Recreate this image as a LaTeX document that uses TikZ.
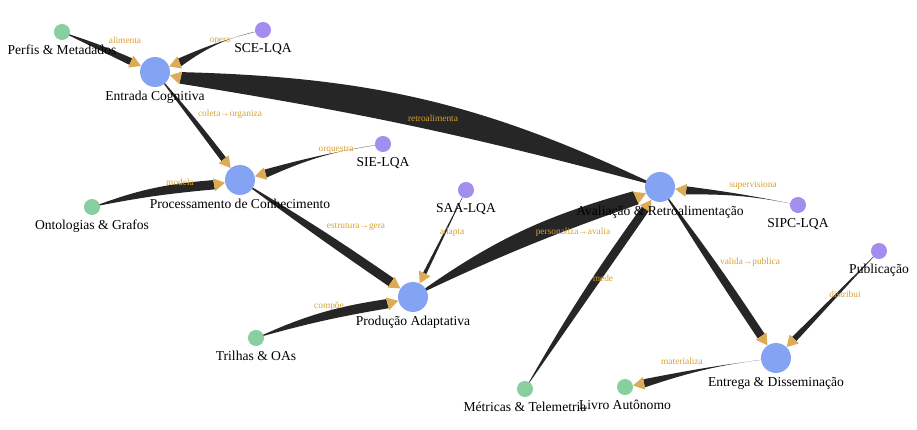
\documentclass[tikz,border=0pt]{standalone}
\usepackage{fontspec}
\setmainfont{Liberation Serif}
\usetikzlibrary{calc,backgrounds}
\definecolor{stageblue}{HTML}{84A3F2}
\definecolor{agentviolet}{HTML}{A38EF0}
\definecolor{sourcegreen}{HTML}{88CFA0}
\definecolor{flowdark}{HTML}{262626}
\definecolor{tiporange}{HTML}{DDAA55}
\definecolor{textorange}{HTML}{D9A030}
\tikzset{
  stage/.style={circle,fill=stageblue,inner sep=0pt,minimum size=25.6pt},
  agent/.style={circle,fill=agentviolet,inner sep=0pt,minimum size=13.7pt},
  source/.style={circle,fill=sourcegreen,inner sep=0pt,minimum size=13.7pt},
  lbl/.style={font=\fontsize{11.6}{13}\selectfont,inner sep=0pt},
  elbl/.style={font=\fontsize{8}{9}\selectfont,text=textorange,inner sep=0pt},
}
% tapered connector: source, target, half width, bend out, bend back
\newcommand\flow[5]{%
  \path (#2) -- (#1) coordinate[pos=0] (tip);
  \coordinate (base) at ($(tip)!9.5pt!(#1)$);
  \fill[flowdark] (#1.center) to[bend left=#4] ($(base)!#3!90:(tip)$)
    -- ($(base)!#3!-90:(tip)$) to[bend right=#5] (#1.center);
  \fill[tiporange] (tip) -- ($(base)!5.5pt!90:(tip)$)
    -- ($(base)!5.5pt!-90:(tip)$) -- cycle;
}
\begin{document}
\begin{tikzpicture}[x=0.03cm,y=-0.03cm]
\useasboundingbox (0,0) rectangle (917,430);
% stages
\node[stage,label={[lbl,label distance=3pt]below:Entrada Cognitiva}] (entrada) at (155,72) {};
\node[stage,label={[lbl,label distance=3pt]below:Processamento de Conhecimento}] (proc) at (240,180) {};
\node[stage,label={[lbl,label distance=3pt]below:Produção Adaptativa}] (prod) at (413,297) {};
\node[stage,label={[lbl,label distance=3pt]below:Avaliação \& Retroalimentação}] (aval) at (660,187) {};
\node[stage,label={[lbl,label distance=3pt]below:Entrega \& Disseminação}] (entrega) at (776,358) {};
% agents
\node[agent,label={[lbl,label distance=4pt]below:SCE-LQA}] (sce) at (263,30) {};
\node[agent,label={[lbl,label distance=4pt]below:SIE-LQA}] (sie) at (383,144) {};
\node[agent,label={[lbl,label distance=4pt]below:SAA-LQA}] (saa) at (466,190) {};
\node[agent,label={[lbl,label distance=4pt]below:SIPC-LQA}] (sipc) at (798,205) {};
\node[agent,label={[lbl,label distance=4pt]below:Publicação}] (pub) at (879,251) {};
% sources
\node[source,label={[lbl,label distance=4pt]below:Perfis \& Metadados}] (perfis) at (62,32) {};
\node[source,label={[lbl,label distance=4pt]below:Ontologias \& Grafos}] (onto) at (92,207) {};
\node[source,label={[lbl,label distance=4pt]below:Trilhas \& OAs}] (trilhas) at (256,338) {};
\node[source,label={[lbl,label distance=4pt]below:Métricas \& Telemetria}] (metr) at (525,389) {};
\node[source,label={[lbl,label distance=4pt]below:Livro Autônomo}] (livro) at (625,387) {};
\begin{scope}[on background layer]
\flow{perfis}{entrada}{3pt}{3}{0}
\flow{sce}{entrada}{3.5pt}{-12}{-5}
\flow{aval}{entrada}{5pt}{-3}{-12}
\flow{entrada}{proc}{2.5pt}{2}{0}
\flow{sie}{proc}{3.5pt}{-8}{-3}
\flow{onto}{proc}{4pt}{8}{3}
\flow{proc}{prod}{4pt}{2}{-1}
\flow{saa}{prod}{1.5pt}{0}{0}
\flow{trilhas}{prod}{4pt}{8}{3}
\flow{prod}{aval}{6pt}{10}{3}
\flow{sipc}{aval}{3.5pt}{-6}{-2}
\flow{metr}{aval}{3.5pt}{3}{0}
\flow{aval}{entrega}{3.5pt}{2}{-1}
\flow{pub}{entrega}{2.5pt}{0}{0}
\flow{entrega}{livro}{3.5pt}{-6}{-2}
\end{scope}
% connector labels
\node[elbl] at (125,40) {alimenta};
\node[elbl] at (220,41) {opera};
\node[elbl] at (433,118) {retroalimenta};
\node[elbl] at (230,114) {coleta→organiza};
\node[elbl] at (336,150) {orquestra};
\node[elbl] at (180,182) {modela};
\node[elbl] at (356,227) {estrutura→gera};
\node[elbl] at (452,232) {adapta};
\node[elbl] at (329,306) {compõe};
\node[elbl] at (573,232) {personaliza→avalia};
\node[elbl] at (753,185) {supervisiona};
\node[elbl] at (603,278) {mede};
\node[elbl] at (750,262) {valida→publica};
\node[elbl] at (845,294) {distribui};
\node[elbl] at (682,361) {materializa};
\end{tikzpicture}
\end{document}
